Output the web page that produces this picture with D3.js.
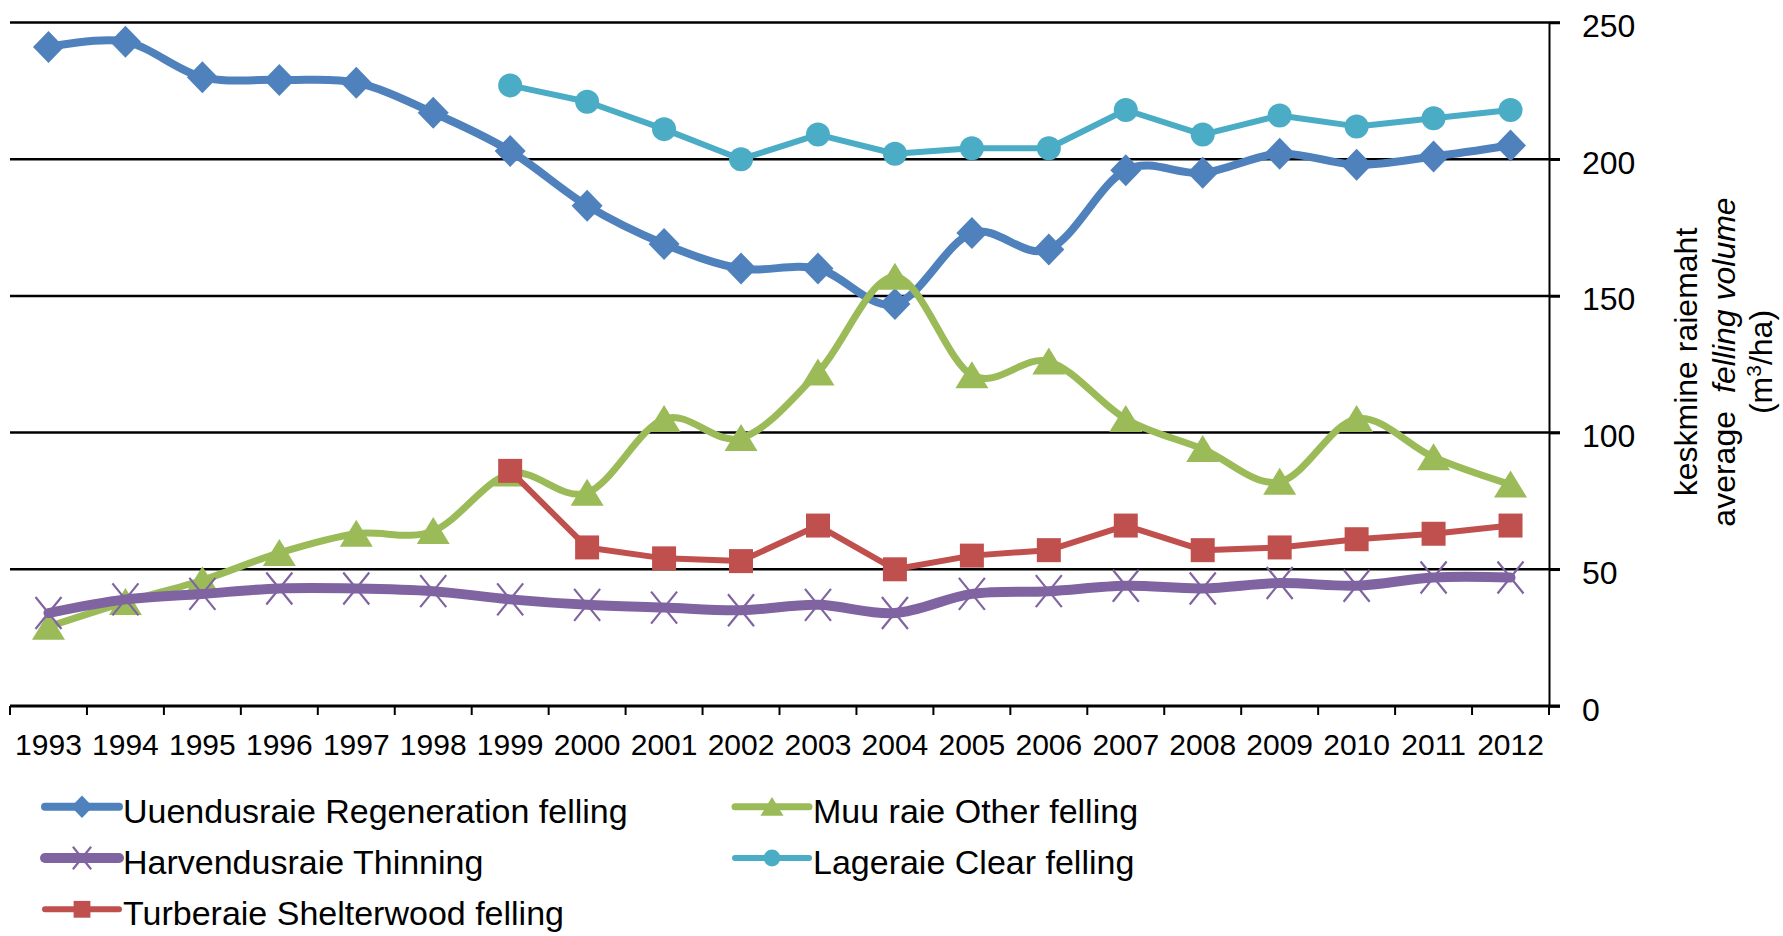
<!DOCTYPE html>
<html>
<head>
<meta charset="utf-8">
<script src="https://cdn.jsdelivr.net/npm/d3@7"></script>
<style>
body { margin: 0; background: #fff; }
svg { display: block; font-family: "Liberation Sans", Arial, sans-serif; }
</style>
</head>
<body>
<svg id="chart"></svg>
<script>
const years = [1993, 1994, 1995, 1996, 1997, 1998, 1999, 2000, 2001, 2002,
    2003, 2004, 2005, 2006, 2007, 2008, 2009, 2010, 2011, 2012];

// m3/ha
const regeneration = [241, 243, 230, 229, 228, 217, 203, 183, 169, 160,
    160, 147, 173, 167, 196, 195, 202, 198, 201, 205];
const other = [29, 38, 46, 56, 63, 64, 85, 78, 105, 98,
    122, 157, 121, 126, 105, 94, 82, 105, 91, 81];
const thinning = [34, 39, 41, 43, 43, 42, 39, 37, 36, 35,
    37, 34, 41, 42, 44, 43, 45, 44, 47, 47];
const clear = [null, null, null, null, null, null, 227, 221, 211, 200,
    209, 202, 204, 204, 218, 209, 216, 212, 215, 218];
const shelterwood = [null, null, null, null, null, null, 86, 58, 54, 53,
    66, 50, 55, 57, 66, 57, 58, 61, 63, 66];

const yTicks = [0, 50, 100, 150, 200, 250];

const width = 1783;
const height = 936;
const plotLeft = 10;
const plotRight = 1549;
const plotTop = 22.5;
const plotBottom = 706;

// series in Excel order (later ones are drawn on top)
const series = [
    { name: 'Uuendusraie Regeneration felling', values: regeneration, color: '#4F81BD', marker: 'diamond', smooth: true, lw: 8 },
    { name: 'Muu raie Other felling', values: other, color: '#9BBB59', marker: 'triangle', smooth: true, lw: 7 },
    { name: 'Harvendusraie Thinning', values: thinning, color: '#8064A2', marker: 'cross', smooth: true, lw: 10 },
    { name: 'Lageraie Clear felling', values: clear, color: '#4BACC6', marker: 'circle', smooth: false, lw: 6 },
    { name: 'Turberaie Shelterwood felling', values: shelterwood, color: '#C0504D', marker: 'square', smooth: false, lw: 6 }
];

let svg = d3.select('#chart')
    .attr('width', width)
    .attr('height', height);

let xScale = d3.scaleBand()
    .domain(years)
    .range([plotLeft, plotRight]);

let yScale = d3.scaleLinear()
    .domain([0, 250])
    .range([plotBottom, plotTop]);

let cx = (year) => xScale(year) + xScale.bandwidth() / 2;

// gridlines
svg.append('g')
    .selectAll('line')
    .data(yTicks.filter(d => d > 0))
    .enter()
    .append('line')
    .attr('x1', plotLeft)
    .attr('x2', plotRight + 11)
    .attr('y1', d => yScale(d))
    .attr('y2', d => yScale(d))
    .attr('stroke', '#000')
    .attr('stroke-width', 2.5);

// right value axis
let yAxis = d3.axisRight(yScale)
    .tickValues(yTicks)
    .tickSize(11)
    .tickSizeOuter(0)
    .tickPadding(22);

let yAxisG = svg.append('g')
    .attr('transform', 'translate(' + plotRight + ',0)')
    .call(yAxis);
yAxisG.select('.domain').attr('stroke', '#000').attr('stroke-width', 2);
yAxisG.selectAll('.tick line').attr('stroke', '#000').attr('stroke-width', 2.5);
yAxisG.selectAll('.tick text')
    .attr('dy', '0.44em')
    .style('font-size', '32px')
    .style('font-family', '"Liberation Sans", Arial, sans-serif')
    .attr('fill', '#000');

// category axis: line, boundary ticks, labels
svg.append('line')
    .attr('x1', plotLeft)
    .attr('x2', plotRight + 11)
    .attr('y1', plotBottom)
    .attr('y2', plotBottom)
    .attr('stroke', '#000')
    .attr('stroke-width', 3);

svg.append('g')
    .selectAll('line')
    .data(years.concat(['end']))
    .enter()
    .append('line')
    .attr('x1', d => d === 'end' ? plotRight : xScale(d))
    .attr('x2', d => d === 'end' ? plotRight : xScale(d))
    .attr('y1', plotBottom)
    .attr('y2', plotBottom + 9)
    .attr('stroke', '#000')
    .attr('stroke-width', 2);

let xAxis = d3.axisBottom(xScale)
    .tickSize(0)
    .tickPadding(28);

let xAxisG = svg.append('g')
    .attr('transform', 'translate(0,' + plotBottom + ')')
    .call(xAxis);
xAxisG.select('.domain').remove();
xAxisG.selectAll('.tick text')
    .style('font-size', '30px')
    .style('font-family', '"Liberation Sans", Arial, sans-serif')
    .attr('fill', '#000');

// marker shapes
let markerPath = (type, s) => {
    if (type === 'diamond') return `M0,${-16 * s}L${15.5 * s},0L0,${16 * s}L${-15.5 * s},0Z`;
    if (type === 'triangle') return `M0,${-14 * s}L${16.5 * s},${13 * s}L${-16.5 * s},${13 * s}Z`;
    if (type === 'square') return `M${-12 * s},${-12 * s}H${12 * s}V${12 * s}H${-12 * s}Z`;
    if (type === 'circle') return `M${-12 * s},0A${12 * s},${12 * s} 0 1,0 ${12 * s},0A${12 * s},${12 * s} 0 1,0 ${-12 * s},0Z`;
    return `M${-13 * s},${-16 * s}L${13 * s},${16 * s}M${13 * s},${-16 * s}L${-13 * s},${16 * s}`;
};

let drawMarker = (sel, s, type, color) => {
    sel.attr('d', markerPath(type, s));
    if (type === 'cross') {
        sel.attr('fill', 'none').attr('stroke', color).attr('stroke-width', 2.2);
    } else {
        sel.attr('fill', color).attr('stroke', 'none');
    }
};

series.forEach((s) => {
    let pts = years.map((y, i) => ({ year: y, value: s.values[i] }))
        .filter(p => p.value !== null);

    let line = d3.line()
        .x(p => cx(p.year))
        .y(p => yScale(p.value))
        .curve(s.smooth ? d3.curveCatmullRom.alpha(0) : d3.curveLinear);

    let g = svg.append('g');

    g.append('path')
        .datum(pts)
        .attr('d', line)
        .attr('fill', 'none')
        .attr('stroke', s.color)
        .attr('stroke-width', s.lw)
        .attr('stroke-linejoin', 'round')
        .attr('stroke-linecap', 'round');

    g.selectAll('path.marker')
        .data(pts)
        .enter()
        .append('path')
        .attr('class', 'marker')
        .attr('transform', p => 'translate(' + cx(p.year) + ',' + yScale(p.value) + ')')
        .each(function () { drawMarker(d3.select(this), 1, s.marker, s.color); });
});

// y axis title
let titleG = svg.append('g')
    .style('font-size', '32px')
    .attr('fill', '#000');

titleG.append('text')
    .attr('transform', 'translate(1697,362) rotate(-90)')
    .attr('text-anchor', 'middle')
    .text('keskmine raiemaht');

let t2 = titleG.append('text')
    .attr('transform', 'translate(1735,362) rotate(-90)')
    .attr('text-anchor', 'middle');
t2.append('tspan').text('average');
t2.append('tspan').attr('dx', 18).style('font-style', 'italic').text('felling volume');

let t3 = titleG.append('text')
    .attr('transform', 'translate(1772,362) rotate(-90)')
    .attr('text-anchor', 'middle');
t3.append('tspan').text('(m');
t3.append('tspan').attr('dy', -11).style('font-size', '21px').text('3');
t3.append('tspan').attr('dy', 11).text('/ha)');

// legend: two columns, row-wise
const legendCols = [45, 735];
const legendRows = [822.7, 874, 925.3];

let legend = svg.append('g');
series.forEach((s, i) => {
    let lx = legendCols[i % 2];
    let ly = legendRows[Math.floor(i / 2)];
    let item = legend.append('g');
    item.append('line')
        .attr('x1', lx)
        .attr('x2', lx + 74)
        .attr('y1', ly - 16)
        .attr('y2', ly - 16)
        .attr('stroke', s.color)
        .attr('stroke-width', s.lw)
        .attr('stroke-linecap', 'round');
    item.append('path')
        .attr('transform', 'translate(' + (lx + 37) + ',' + (ly - 16) + ')')
        .each(function () { drawMarker(d3.select(this), 0.7, s.marker, s.color); });
    item.append('text')
        .attr('x', lx + 78)
        .attr('y', ly)
        .style('font-size', '34px')
        .attr('fill', '#000')
        .text(s.name);
});
</script>
</body>
</html>
